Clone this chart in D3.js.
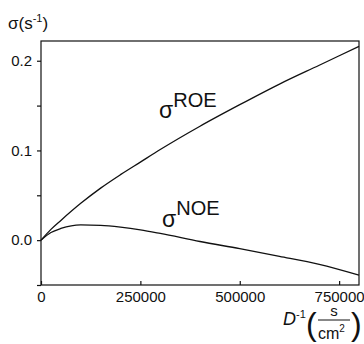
<!DOCTYPE html>
<html>
<head>
<meta charset="utf-8">
<script src="https://cdn.jsdelivr.net/npm/d3@7"></script>
<style>
  body { margin: 0; background: #fff; }
  text { font-family: "Liberation Sans", Arial, sans-serif; fill: #111; }
  .axis path, .axis line { stroke: #111; stroke-width: 1.2; }
  .axis text { font-size: 15px; }
</style>
</head>
<body>
<div id="chart-container"></div>
<script>
/* sigma ROE / NOE vs inverse diffusion coefficient */

// inverse diffusion D^-1 (s/cm2)
const invD = [0, 25000, 50000, 100000, 150000, 200000, 250000, 300000,
  400000, 500000, 600000, 700000, 800000];
const sigmaROE = [0, 0.012, 0.022, 0.041, 0.058, 0.073, 0.087, 0.101,
  0.127, 0.151, 0.174, 0.195, 0.216];
const sigmaNOE = [0, 0.0085, 0.013, 0.017, 0.0165, 0.0145, 0.0115, 0.0075,
  -0.0015, -0.0095, -0.018, -0.027, -0.039];

const xTicks = [0, 250000, 500000, 750000];
const yTicks = [-0.05, 0, 0.05, 0.1, 0.15, 0.2];
const yLabels = [0, 0.1, 0.2];

function create_chart() {
  let height = 344,
    width = 364,
    margin = { top: 41, right: 5, bottom: 59, left: 41 };

  const svg = d3
    .select("#chart-container")
    .append("svg")
    .attr("width", width)
    .attr("height", height);

  let x = d3
    .scaleLinear()
    .domain([0, 800000])
    .range([margin.left, width - margin.right]);

  let y = d3
    .scaleLinear()
    .domain([-0.05, 0.222])
    .range([height - margin.bottom, margin.top]);

  // frame
  svg
    .append("rect")
    .attr("x", margin.left)
    .attr("y", margin.top)
    .attr("width", width - margin.right - margin.left)
    .attr("height", height - margin.bottom - margin.top)
    .style("fill", "none")
    .style("stroke", "#111")
    .style("stroke-width", 1.2);

  svg
    .append("g")
    .attr("class", "axis")
    .attr("transform", `translate(0,${height - margin.bottom})`)
    .call(
      d3.axisBottom(x).tickValues(xTicks).tickSize(-4).tickPadding(6)
        .tickFormat(d3.format("d"))
    )
    .call((g) => g.select(".domain").remove());

  svg
    .append("g")
    .attr("class", "axis")
    .attr("transform", `translate(${margin.left},0)`)
    .call(
      d3.axisLeft(y).tickValues(yTicks).tickSize(4).tickPadding(5)
        .tickFormat((d) => (yLabels.includes(d) ? d3.format(".1f")(d) : ""))
    )
    .call((g) => g.select(".domain").remove());

  let line = d3
    .line()
    .x((d, i) => x(invD[i]))
    .y((d) => y(d))
    .curve(d3.curveMonotoneX);

  svg
    .append("path")
    .datum(sigmaROE)
    .attr("d", line)
    .style("fill", "none")
    .style("stroke", "#111")
    .style("stroke-width", 1.3);

  svg
    .append("path")
    .datum(sigmaNOE)
    .attr("d", line)
    .style("fill", "none")
    .style("stroke", "#111")
    .style("stroke-width", 1.3);

  // curve labels
  let roe = svg.append("text").attr("x", 159).attr("y", 118);
  roe.append("tspan").style("font-size", "23px").text("σ");
  roe.append("tspan").attr("dy", -11).style("font-size", "20px").text("ROE");

  let noe = svg.append("text").attr("x", 162).attr("y", 227);
  noe.append("tspan").style("font-size", "23px").text("σ");
  noe.append("tspan").attr("dy", -12).style("font-size", "20px").text("NOE");

  // y axis title
  let yt = svg.append("text").attr("x", 8).attr("y", 29).style("font-size", "17px");
  yt.append("tspan").text("σ(s");
  yt.append("tspan").attr("dy", -7).style("font-size", "11px").text("-1");
  yt.append("tspan").attr("dy", 7).text(")");

  // x axis title
  let xt = svg.append("text").attr("x", 283).attr("y", 325).style("font-size", "18px");
  xt.append("tspan").style("font-style", "italic").text("D");
  xt.append("tspan").attr("dy", -7).style("font-size", "11px").text("-1");

  svg
    .append("text")
    .attr("x", 306)
    .attr("y", 335)
    .style("font-size", "32px")
    .text("(");
  svg
    .append("text")
    .attr("x", 351)
    .attr("y", 335)
    .style("font-size", "32px")
    .text(")");

  svg
    .append("text")
    .attr("x", 334)
    .attr("y", 316)
    .attr("text-anchor", "middle")
    .style("font-size", "15px")
    .text("s");

  svg
    .append("line")
    .attr("x1", 318)
    .attr("x2", 350)
    .attr("y1", 320)
    .attr("y2", 320)
    .style("stroke", "#111")
    .style("stroke-width", 1);

  let cm = svg
    .append("text")
    .attr("x", 318)
    .attr("y", 339)
    .style("font-size", "16px");
  cm.append("tspan").text("cm");
  cm.append("tspan").attr("dy", -7).style("font-size", "10px").text("2");
}

create_chart();
</script>
</body>
</html>
